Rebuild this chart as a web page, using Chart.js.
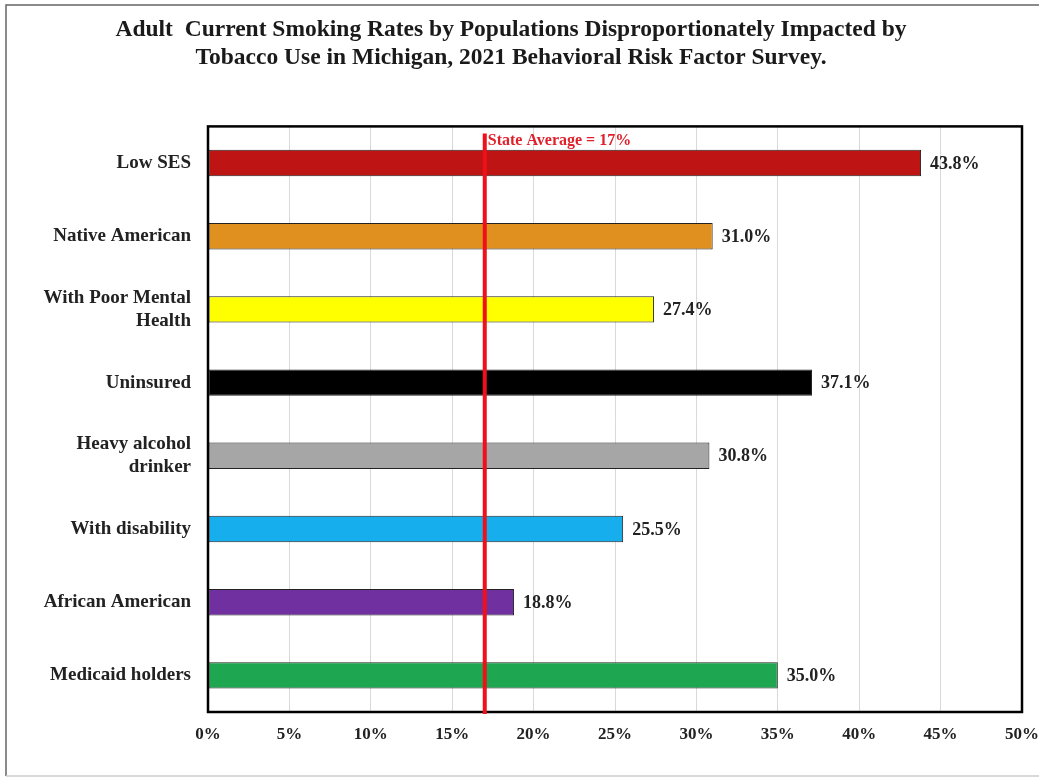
<!DOCTYPE html>
<html>
<head>
<meta charset="utf-8">
<script src="https://cdn.jsdelivr.net/npm/chart.js@4"></script>
<style>
  body { margin: 0; background: #fff; }
  canvas { display: block; }
</style>
</head>
<body>
<canvas id="smoking-chart" width="1039" height="778"></canvas>
<script>
var categories = [
  'Low SES', 'Native American', ['With Poor Mental', 'Health'], 'Uninsured',
  ['Heavy alcohol', 'drinker'], 'With disability', 'African American', 'Medicaid holders'
];
var rates = [43.8, 31.0, 27.4, 37.1, 30.8, 25.5, 18.8, 35.0];
var barColors = ['#BE1414', '#E0901E', '#FFFF00', '#000000', '#A6A6A6', '#17AEEE', '#7030A0', '#1EA650'];
var stateAverage = 17;
var xTicks = [0, 5, 10, 15, 20, 25, 30, 35, 40, 45, 50];

var serif = '"Liberation Serif", "Times New Roman", serif';

// frame round the picture, box round the plot, state average line, value labels
var decorations = {
  id: 'decorations',
  beforeDraw: function(chart) {
    var c = chart.ctx;
    c.save();
    c.strokeStyle = '#666';
    c.lineWidth = 1.5;
    c.beginPath();
    c.moveTo(chart.width, 5);
    c.lineTo(6, 5);
    c.lineTo(6, chart.height - 2);
    c.stroke();
    c.strokeStyle = '#ccc';
    c.beginPath();
    c.moveTo(6, chart.height - 2);
    c.lineTo(chart.width, chart.height - 2);
    c.stroke();
    c.restore();
  },
  afterDatasetsDraw: function(chart) {
    var c = chart.ctx, a = chart.chartArea, x = chart.scales.x;
    c.save();
    // value labels
    c.font = 'bold 18px ' + serif;
    c.fillStyle = '#222';
    c.textBaseline = 'middle';
    chart.getDatasetMeta(0).data.forEach(function(bar, i) {
      c.fillText(rates[i].toFixed(1) + '%', bar.x + 9, bar.y + 1);
    });
    // plot box
    c.strokeStyle = '#000';
    c.lineWidth = 2.5;
    c.strokeRect(a.left, a.top, a.right - a.left, a.bottom - a.top);
    // state average line
    var ax = x.getPixelForValue(stateAverage);
    c.strokeStyle = '#F0101A';
    c.lineWidth = 4;
    c.beginPath();
    c.moveTo(ax, a.top + 7);
    c.lineTo(ax, a.bottom + 2);
    c.stroke();
    c.font = 'bold 16px ' + serif;
    c.fillStyle = '#E0202A';
    c.fillText('State Average = ' + stateAverage + '%', ax + 3, a.top + 14);
    c.restore();
  }
};

var ctx = document.getElementById('smoking-chart').getContext('2d');
var smokingChart = new Chart(ctx, {
  type: 'bar',
  data: {
    labels: categories,
    datasets: [{
      label: 'Current smoking rate',
      data: rates,
      backgroundColor: barColors,
      borderColor: '#222',
      borderWidth: 1,
      borderSkipped: false,
      categoryPercentage: 1,
      barPercentage: 0.36
    }]
  },
  options: {
    indexAxis: 'y',
    responsive: false,
    animation: false,
    layout: { padding: { left: 0, right: 17, top: 0, bottom: 0 } },
    plugins: {
      legend: { display: false },
      tooltip: { enabled: false },
      title: {
        display: true,
        text: ['Adult  Current Smoking Rates by Populations Disproportionately Impacted by',
               'Tobacco Use in Michigan, 2021 Behavioral Risk Factor Survey.'],
        color: '#1a1a1a',
        font: { family: serif, size: 23.5, weight: 'bold', lineHeight: 1.2 },
        padding: { top: 16, bottom: 54 }
      }
    },
    scales: {
      x: {
        min: 0,
        max: 50,
        afterBuildTicks: function(scale) {
          scale.ticks = xTicks.map(function(v) { return { value: v }; });
        },
        afterFit: function(scale) {
          scale.height = 66;
          scale.paddingLeft = 0;
          scale.paddingRight = 0;
        },
        grid: { color: '#d9d9d9', lineWidth: 1, drawTicks: false },
        border: { display: false },
        ticks: {
          color: '#222',
          padding: 12,
          maxRotation: 0,
          font: { family: serif, size: 17, weight: 'bold' },
          callback: function(v) { return v + '%'; }
        }
      },
      y: {
        afterFit: function(scale) { scale.width = 208; },
        grid: { display: false, drawTicks: false },
        border: { display: false },
        ticks: {
          color: '#222',
          padding: 17,
          font: { family: serif, size: 19, weight: 'bold', lineHeight: 1.2 }
        }
      }
    }
  },
  plugins: [decorations]
});
</script>
</body>
</html>
